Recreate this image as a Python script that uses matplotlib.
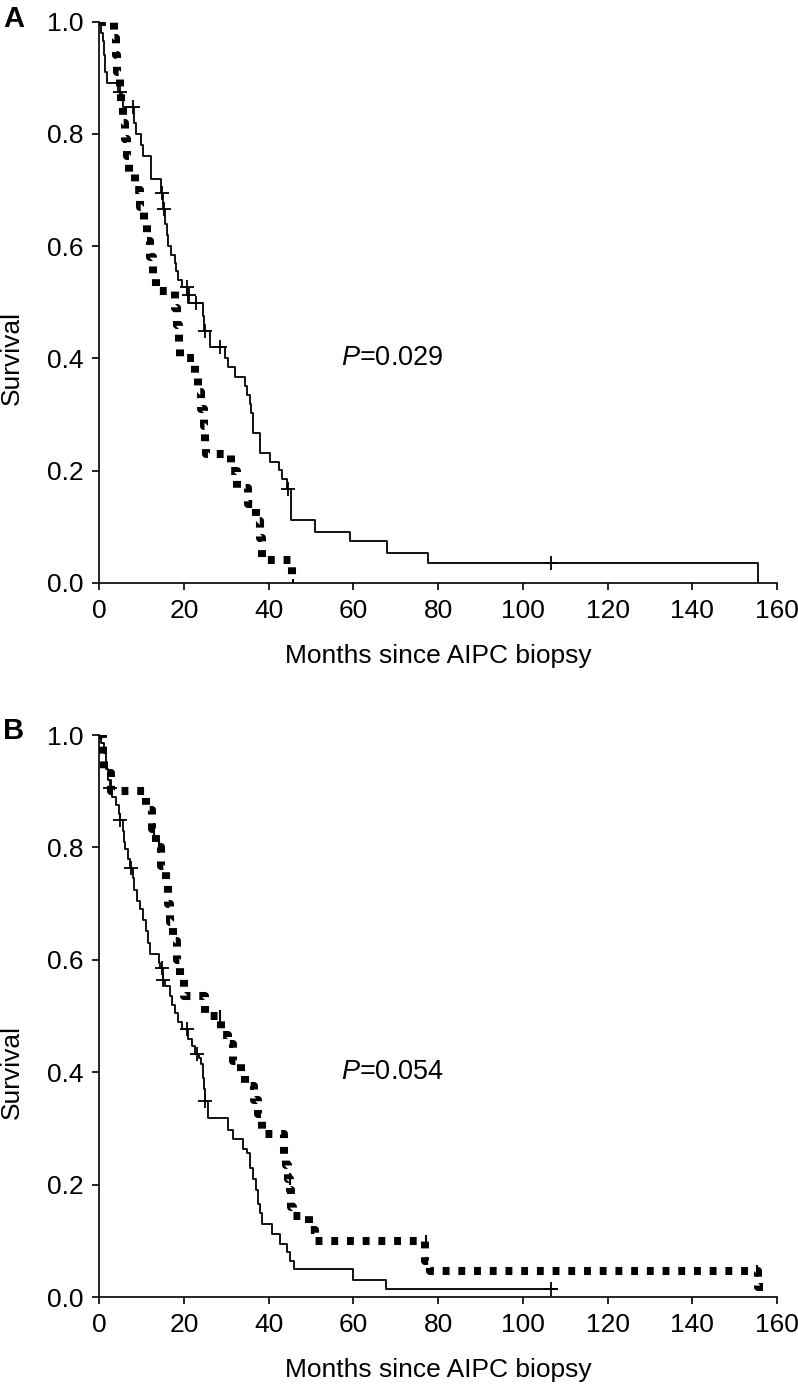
import matplotlib
matplotlib.use("Agg")
import matplotlib.pyplot as plt
import numpy as np

plt.rcParams['font.family'] = ['Liberation Sans', 'DejaVu Sans']
plt.rcParams['mathtext.fontset'] = 'custom'
plt.rcParams['mathtext.it'] = 'Liberation Sans:italic'
plt.rcParams['mathtext.rm'] = 'Liberation Sans'

# ---------------- Panel A ----------------
# solid curve (step times, survival after step)
a_solid_t = [0, 0.5, 0.8, 1.0, 1.3, 1.8, 4.5, 5.3, 5.6, 8.2, 8.7, 9.8, 10.3, 12.3, 14.5, 15.0,
             15.6, 16.0, 16.3, 17.0, 17.8, 18.0, 18.5, 19.5, 20.8, 21.0, 24.5, 24.8, 26.1, 29.6,
             30.4, 32.0, 34.3, 34.8, 35.6, 35.9, 36.3, 38.0, 40.4, 42.4, 43.2, 44.3, 45.3, 51.0,
             59.3, 68.0, 77.5, 155.6]
a_solid_s = [1.0, 0.98, 0.965, 0.94, 0.91, 0.89, 0.875, 0.86, 0.848, 0.82, 0.80, 0.78, 0.76, 0.72,
             0.694, 0.666, 0.64, 0.62, 0.60, 0.585, 0.57, 0.555, 0.54, 0.527, 0.513, 0.498, 0.475,
             0.448, 0.421, 0.40, 0.384, 0.366, 0.35, 0.335, 0.318, 0.302, 0.267, 0.232, 0.216,
             0.201, 0.185, 0.167, 0.113, 0.091, 0.074, 0.054, 0.036, 0.0]
a_solid_end = 155.6
a_solid_cens_t = [5.0, 7.9, 14.7, 15.2, 20.6, 21.2, 22.9, 24.9, 28.4, 44.5, 106.6]
a_solid_cens_s = [0.875, 0.848, 0.694, 0.666, 0.527, 0.513, 0.498, 0.448, 0.421, 0.167, 0.036]

# dashed curve
a_dash_t = [0, 3.5, 4.0, 4.3, 4.8, 5.2, 5.6, 6.0, 6.5, 7.0, 8.5, 9.5, 10.5, 11.2, 12.0, 12.8,
            13.5, 17.8, 18.3, 18.9, 19.1, 22.5, 23.2, 24.0, 24.7, 25.0, 25.3, 31.0, 32.5, 35.0,
            37.0, 38.0, 38.5, 45.5]
a_dash_s = [1.0, 0.97, 0.94, 0.91, 0.88, 0.85, 0.82, 0.79, 0.76, 0.73, 0.70, 0.67, 0.64, 0.61,
            0.58, 0.55, 0.52, 0.49, 0.46, 0.43, 0.40, 0.37, 0.34, 0.31, 0.28, 0.25, 0.23, 0.20,
            0.17, 0.14, 0.11, 0.08, 0.04, 0.0]
a_dash_end = 46.0

# ---------------- Panel B ----------------
b_solid_t = [0, 0.5, 1.0, 1.5, 2.0, 2.7, 3.0, 4.0, 4.6, 4.9, 5.5, 5.8, 6.1, 6.8, 7.3, 7.9, 8.3,
             8.8, 9.5, 10.4, 11.0, 11.6, 12.0, 14.0, 14.3, 15.0, 15.6, 16.7, 17.2, 17.9, 18.5,
             19.5, 21.0, 22.0, 22.5, 23.6, 24.0, 24.6, 24.8, 25.0, 25.7, 30.5, 31.6, 33.9, 34.8,
             35.5, 36.3, 37.0, 37.5, 38.0, 38.4, 40.8, 42.7, 44.3, 45.0, 46.0, 60.0, 67.8]
b_solid_s = [1.0, 0.986, 0.968, 0.94, 0.92, 0.905, 0.89, 0.875, 0.86, 0.848, 0.83, 0.81, 0.797,
             0.78, 0.763, 0.745, 0.725, 0.705, 0.69, 0.67, 0.652, 0.63, 0.61, 0.595, 0.585, 0.564,
             0.553, 0.536, 0.52, 0.506, 0.49, 0.477, 0.46, 0.447, 0.432, 0.425, 0.414, 0.39,
             0.37, 0.348, 0.318, 0.298, 0.282, 0.264, 0.256, 0.23, 0.21, 0.19, 0.165, 0.15, 0.13,
             0.112, 0.095, 0.08, 0.065, 0.05, 0.03, 0.0145]
b_solid_end = 108.0
b_solid_cens_t = [2.5, 4.9, 7.6, 14.7, 15.1, 20.6, 23.0, 25.0, 106.6]
b_solid_cens_s = [0.905, 0.848, 0.763, 0.585, 0.564, 0.477, 0.432, 0.348, 0.0145]

b_dash_t = [0, 0.8, 1.2, 2.8, 11.0, 12.5, 13.5, 14.5, 15.8, 16.3, 16.8, 17.5, 18.3, 19.0, 20.0,
            25.0, 28.8, 30.5, 31.5, 33.5, 34.5, 36.5, 37.5, 38.5, 43.5, 44.0, 44.5, 45.0, 45.3,
            45.7, 49.5, 51.0, 77.0, 78.0, 155.5]
b_dash_s = [1.0, 0.967, 0.933, 0.90, 0.867, 0.833, 0.80, 0.767, 0.733, 0.70, 0.667, 0.633, 0.60,
            0.567, 0.535, 0.50, 0.467, 0.45, 0.42, 0.40, 0.375, 0.35, 0.325, 0.29, 0.255, 0.235,
            0.21, 0.19, 0.16, 0.145, 0.12, 0.10, 0.065, 0.047, 0.017]
b_dash_end = 156.7
b_dash_cens_t = [13.0, 14.2, 28.5, 45.0, 77.2, 155.3]
b_dash_cens_s = [0.833, 0.80, 0.50, 0.21, 0.10, 0.047]

x_ticks = [0, 20, 40, 60, 80, 100, 120, 140, 160]
y_ticks = [0.0, 0.2, 0.4, 0.6, 0.8, 1.0]
y_ticklabels = ['0.0', '0.2', '0.4', '0.6', '0.8', '1.0']
p_texts = ['0.029', '0.054']
panel_letters = ['A', 'B']

FS = 19

fig = plt.figure(figsize=(7.98, 13.85), dpi=100)
axA = fig.add_axes([0.1244, 0.5791, 0.8493, 0.4053])
axB = fig.add_axes([0.1244, 0.0635, 0.8493, 0.4058])


def km(ax, t, s, end, **kw):
    tt = list(t) + [end]
    ss = list(s) + [s[-1]]
    ax.step(tt, ss, where='post', **kw)


solid_kw = dict(color='black', lw=1.3)
dash_kw = dict(color='black', lw=5.8, linestyle=(0, (0.85, 1.1)), dash_capstyle='butt')
cens_kw = dict(ls='none', marker='+', ms=10, mew=1.3, color='black')

km(axA, a_solid_t, a_solid_s, a_solid_end, **solid_kw)
axA.plot(a_solid_cens_t, a_solid_cens_s, **cens_kw)
km(axA, a_dash_t, a_dash_s, a_dash_end, **dash_kw)

km(axB, b_solid_t, b_solid_s, b_solid_end, **solid_kw)
axB.plot(b_solid_cens_t, b_solid_cens_s, **cens_kw)
km(axB, b_dash_t, b_dash_s, b_dash_end, **dash_kw)
axB.plot(b_dash_cens_t, b_dash_cens_s, ls='none', marker='|', ms=9, mew=1.5, color='black')

for ax, p in zip([axA, axB], p_texts):
    ax.set_xlim(0, 160)
    ax.set_ylim(0, 1.0)
    ax.set_xticks(x_ticks)
    ax.set_yticks(y_ticks)
    ax.set_yticklabels(y_ticklabels)
    ax.spines['top'].set_visible(False)
    ax.spines['right'].set_visible(False)
    ax.spines['left'].set_linewidth(1.2)
    ax.spines['bottom'].set_linewidth(1.2)
    ax.tick_params(direction='out', length=5, width=1.2, labelsize=FS, pad=6.5)
    ax.set_xlabel('Months since AIPC biopsy', fontsize=FS)
    ax.set_ylabel('Survival', fontsize=FS)
    ax.yaxis.set_label_coords(-0.112, 0.40)
    ax.xaxis.set_label_coords(0.5, -0.108)
    ax.text(57, 0.40, r'$\mathit{P}$' + '=' + p, fontsize=FS + 0.5, va='center', ha='left')

fig.text(0.004, 1 - 5 / 1385, panel_letters[0], fontsize=21, fontweight='bold', va='top', ha='left')
fig.text(0.004, 1 - 717 / 1385, panel_letters[1], fontsize=21, fontweight='bold', va='top', ha='left')

fig.savefig('out.png', dpi=100)
